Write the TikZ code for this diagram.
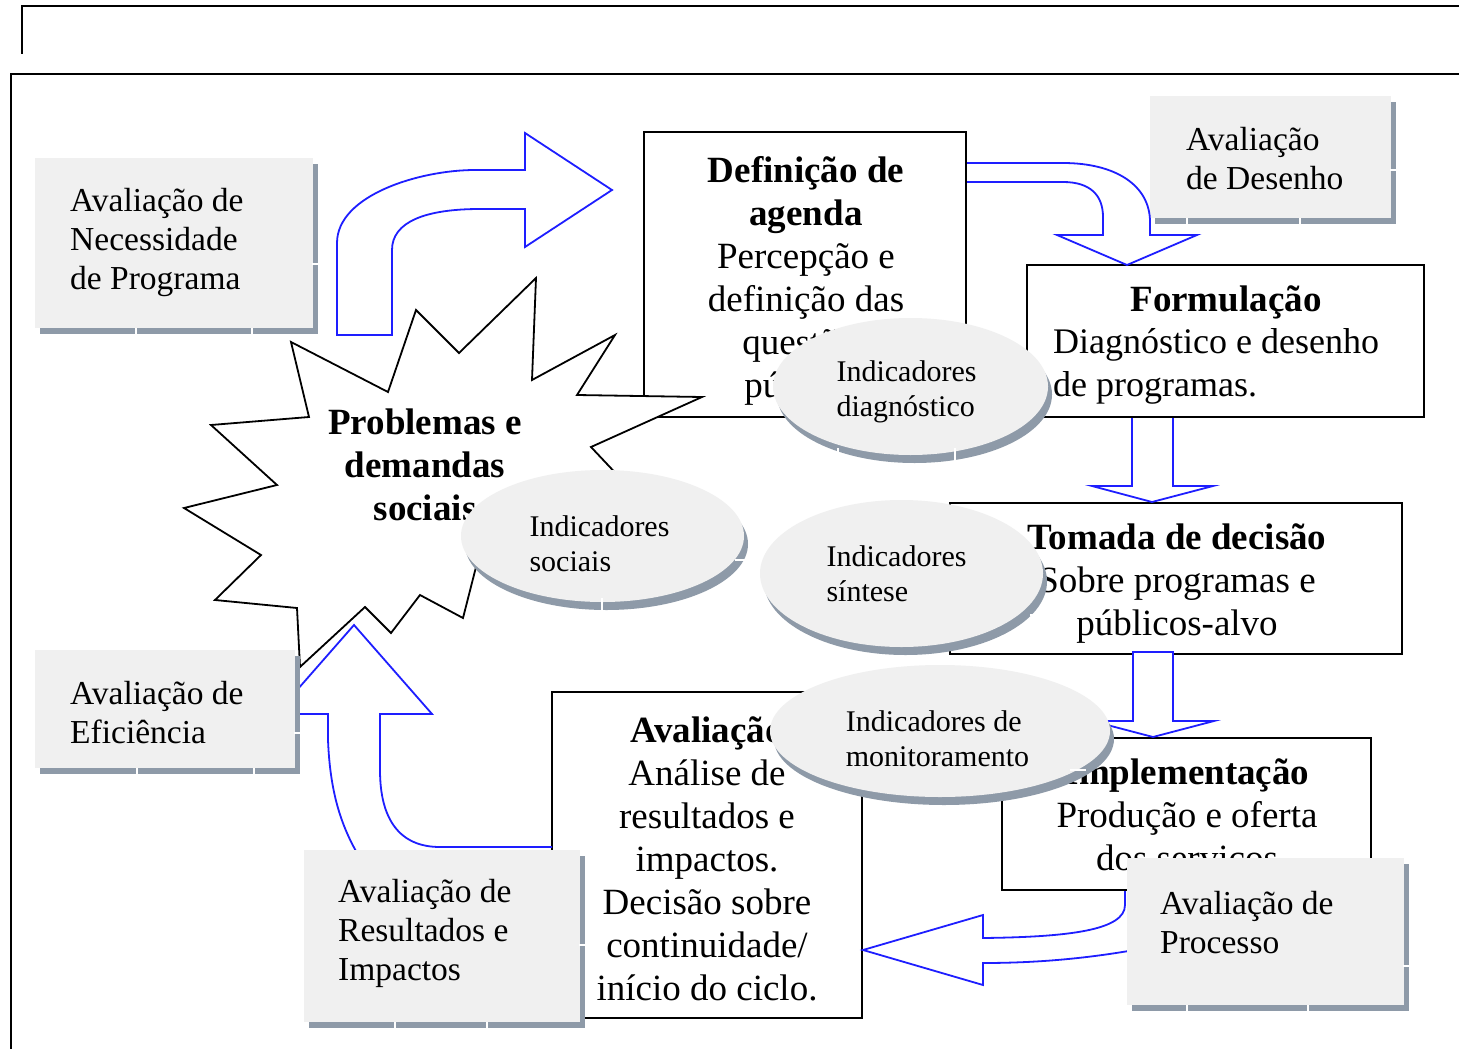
\documentclass[tikz,border=0pt]{standalone}
\usepackage{fontspec}
\setmainfont{Liberation Serif}
\usetikzlibrary{shapes.geometric,shadows}
\definecolor{boxgray}{HTML}{F0F0F0}
\definecolor{shadgray}{HTML}{8E9AA8}
\definecolor{arrblue}{HTML}{1E1EFF}
\begin{document}
\begin{tikzpicture}[x=1pt,y=-1pt,
  wbox/.style={draw=black, fill=white, line width=1.8pt, inner sep=0pt},
  gbox/.style={fill=boxgray, draw=none, inner sep=0pt,
    drop shadow={shadow xshift=5pt, shadow yshift=-6pt, fill=shadgray, opacity=1}},
  gell/.style={ellipse, fill=boxgray, draw=none, inner sep=0pt,
    drop shadow={shadow xshift=4pt, shadow yshift=-8pt, fill=shadgray, opacity=1}},
  barr/.style={draw=arrblue, fill=white, line width=1.8pt, line join=miter},
  starline/.style={draw=black, fill=white, line width=1.8pt, line join=miter},
  gapline/.style={draw=white, line width=1.6pt},
  bodytxt/.style={inner sep=0pt, align=center, font=\fontsize{37}{43}\selectfont},
  graytxt/.style={inner sep=0pt, align=left, anchor=west, font=\fontsize{33.5}{39}\selectfont},
  elltxt/.style={inner sep=0pt, align=left, font=\fontsize{30}{35}\selectfont},
  frameline/.style={draw=black, line width=2pt}
]
\useasboundingbox (0,0) rectangle (1459,1049);
\fill[white] (0,0) rectangle (1459,1049);

% page frame
\draw[frameline] (22,54) -- (22,6) -- (1459,6);
\draw[frameline] (11,1049) -- (11,74) -- (1459,74);

% Definicao de agenda
\node[wbox, minimum width=322, minimum height=285] (def) at (805,274.5) {};
\node[bodytxt] (deft) at (806,281) {\textbf{Definição de}\\\textbf{agenda}\\Percepção e\\definição das\\questões\\públicas};

% star
\draw[starline] (291,342) -- (388,392) -- (416,310) -- (459,353) -- (536,278) -- (532,380)
  -- (615,335) -- (577,395) -- (702,397) -- (591,447) -- (655,515) -- (476,567)
  -- (463,618) -- (420,595) -- (391,633) -- (365,607) -- (300,667) -- (297,608)
  -- (215,600) -- (261,555) -- (184,508) -- (277,485) -- (211,425) -- (309,417) -- cycle;
\node[bodytxt] (star) at (425,465) {\textbf{Problemas e}\\\textbf{demandas}\\\textbf{sociais}};

% arrow 1
\draw[barr] (337,335) -- (337,243) .. controls (337,195) and (420,170) .. (475,170)
  -- (525,170) -- (525,133) -- (612,190) -- (525,247) -- (525,209) -- (480,209)
  .. controls (425,209) and (392,222) .. (392,250) -- (392,335) -- cycle;

% Avaliacao de Necessidade
\node[gbox, minimum width=278, minimum height=170] (nec) at (174,243) {};
\draw[gapline] (136,328) -- (136,336) (252,328) -- (252,336) (312,264) -- (320,264);
\node[graytxt] (nect) at (70,242) {Avaliação de\\Necessidade\\de Programa};

% Formulacao
\node[wbox, minimum width=397, minimum height=152] (form) at (1225.5,341) {};
\node[bodytxt] (formt) at (1226,302) {\textbf{Formulação}};
\node[bodytxt, align=left, anchor=west, font=\fontsize{36}{43}\selectfont] (formb) at (1053,366) {Diagnóstico e desenho\\de programas.};

% Avaliacao de Desenho
\node[gbox, minimum width=241, minimum height=122] (des) at (1270.5,157) {};
\draw[gapline] (1187,218) -- (1187,226) (1300,218) -- (1300,226) (1390,170) -- (1398,170);
\node[graytxt] (dest) at (1186,159) {Avaliação\\de Desenho};

% arrow 2
\draw[barr] (967,163) -- (1063,163) .. controls (1115,163) and (1150,185) .. (1150,222)
  -- (1150,235) -- (1197,235) -- (1127,265) -- (1057,235) -- (1103,235) -- (1103,217)
  .. controls (1103,195) and (1090,182) .. (1063,182) -- (967,182);

% ellipse diagnostico
\node[gell, minimum width=275, minimum height=137] (e1) at (910.5,386.5) {};
\draw[gapline] (838,448) -- (838,465) (955,448) -- (955,465);
\node[elltxt] (e1t) at (906.5,392) {Indicadores\\diagnóstico};

% Tomada de decisao
\node[wbox, minimum width=452, minimum height=151] (tom) at (1176,578.5) {};
\node[bodytxt] (tomt) at (1177,584) {\textbf{Tomada de decisão}\\Sobre programas e\\públicos-alvo};

% arrow 3
\draw[barr] (1132,418) -- (1132,486) -- (1092,486) -- (1152,502) -- (1213,486) -- (1173,486) -- (1173,418);

% ellipse sintese
\node[gell, minimum width=283, minimum height=147] (e3) at (901.5,573.5) {};
\draw[gapline] (1030,615) -- (1046,615);
\node[elltxt] (e3t) at (896.5,574) {Indicadores\\síntese};

% ellipse sociais
\node[gell, minimum width=283, minimum height=132] (e2) at (602.5,536) {};
\draw[gapline] (602,598) -- (602,614) (735,560) -- (750,560);
\node[elltxt] (e2t) at (599.5,544) {Indicadores\\sociais};

% Implementacao
\node[wbox, minimum width=369, minimum height=152] (impl) at (1186.5,814) {};
\node[bodytxt] (implt) at (1187,819) {\textbf{Implementação}\\Produção e oferta\\dos serviços};

% arrow 4
\draw[barr] (1133,652) -- (1133,721) -- (1092,721) -- (1153,737) -- (1214,721) -- (1173,721) -- (1173,652) -- cycle;

% Avaliacao
\node[wbox, minimum width=310, minimum height=326] (aval) at (707,855) {};
\node[bodytxt] (avalt) at (707,859) {\textbf{Avaliação}\\Análise de\\resultados e\\impactos.\\Decisão sobre\\continuidade/\\início do ciclo.};

% ellipse monitoramento
\node[gell, minimum width=340, minimum height=132] (e4) at (940,731) {};
\draw[gapline] (1070,770) -- (1086,770);
\node[elltxt] (e4t) at (937.5,739) {Indicadores de\\monitoramento};

% arrow 5
\draw[barr] (1125,891) -- (1125,905) .. controls (1125,930) and (1070,937) .. (983,938)
  -- (983,915) -- (863,950) -- (983,985) -- (983,963)
  .. controls (1040,963) and (1090,958) .. (1140,949);

% Avaliacao de Processo
\node[gbox, minimum width=277, minimum height=147] (pro) at (1265.5,931.5) {};
\draw[gapline] (1187,1005) -- (1187,1013) (1308,1005) -- (1308,1013) (1403,966) -- (1411,966);
\node[graytxt] (prot) at (1160,923) {Avaliação de\\Processo};

% arrow 6
\draw[barr] (552,847) -- (440,847) .. controls (400,847) and (380,820) .. (380,770)
  -- (380,714) -- (432,714) -- (354,625) -- (276,714) -- (328,714) -- (328,740)
  .. controls (330,790) and (340,825) .. (360,858);

% Avaliacao de Eficiencia
\node[gbox, minimum width=260, minimum height=118] (efi) at (165,709) {};
\draw[gapline] (137,768) -- (137,776) (254,768) -- (254,776) (294,733) -- (302,733);
\node[graytxt] (efit) at (70,713) {Avaliação de\\Eficiência};

% Avaliacao de Resultados
\node[gbox, minimum width=276, minimum height=172] (res) at (442,936) {};
\draw[gapline] (395,1022) -- (395,1030) (487,1022) -- (487,1030) (579,945) -- (587,945);
\node[graytxt] (rest) at (338,933) {Avaliação de\\Resultados e\\Impactos};
\end{tikzpicture}
\end{document}
